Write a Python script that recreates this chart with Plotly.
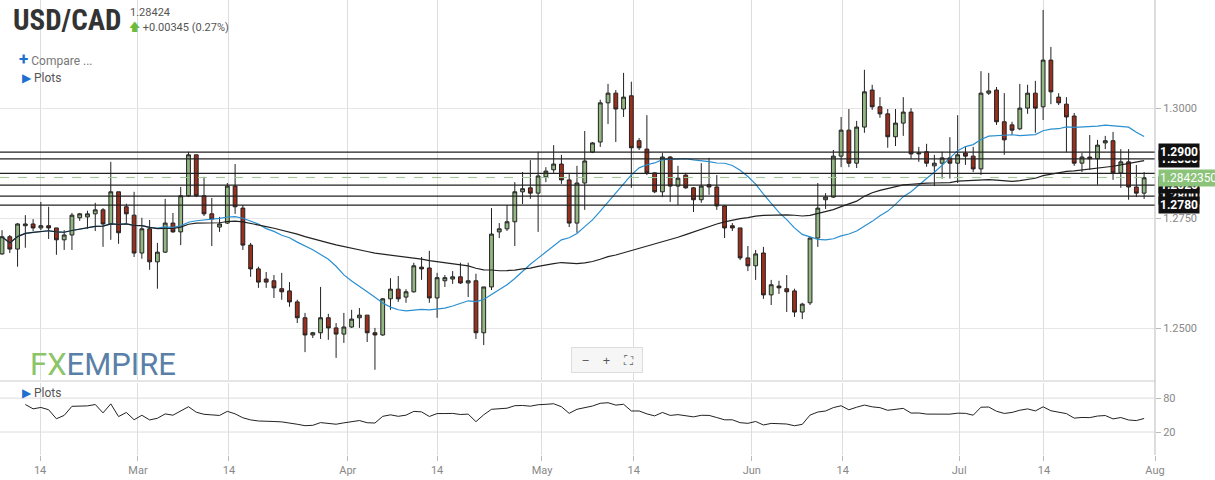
import plotly.graph_objects as go
import pandas as pd
import numpy as np

opens = [1.2669,1.2708,1.2680,1.2733,1.2737,1.2728,1.2733,1.2728,1.2701,1.2712,1.2751,1.2753,1.2760,1.2769,1.2737,1.2810,1.2776,1.2757,1.2671,1.2726,
1.2651,1.2673,1.2739,1.2719,1.2801,1.2894,1.2801,1.2760,1.2730,1.2739,1.2823,1.2773,1.2689,1.2635,1.2612,1.2608,1.2590,1.2585,1.2560,1.2524,
1.2485,1.2490,1.2524,1.2501,1.2487,1.2503,1.2524,1.2530,1.2490,1.2485,1.2567,1.2589,1.2571,1.2583,1.2639,1.2637,1.2569,1.2608,1.2612,1.2617,
1.2603,1.2608,1.2490,1.2594,1.2719,1.2726,1.2742,1.2810,1.2819,1.2807,1.2844,1.2860,1.2873,1.2837,1.2739,1.2830,1.2900,1.2923,1.3012,1.3034,
1.2998,1.3028,1.2926,1.2907,1.2853,1.2810,1.2889,1.2823,1.2848,1.2819,1.2792,1.2826,1.2821,1.2778,1.2733,1.2728,1.2660,1.2642,1.2671,1.2576,
1.2596,1.2590,1.2585,1.2537,1.2558,1.2705,1.2792,1.2798,1.2891,1.2950,1.2875,1.2957,1.3041,1.3003,1.2987,1.2935,1.2966,1.2991,1.2896,1.2901,
1.2869,1.2875,1.2887,1.2875,1.2898,1.2891,1.2862,1.3034,1.3041,1.2969,1.2962,1.2953,1.3000,1.3034,1.3003,1.3109,1.3025,1.3009,1.2982,1.2875,
1.2889,1.2885,1.2921,1.2926,1.2853,1.2878,1.2821,1.2807]
highs = [1.2723,1.2712,1.2739,1.2757,1.2748,1.2787,1.2776,1.2728,1.2723,1.2762,1.2762,1.2767,1.2785,1.2773,1.2878,1.2810,1.2783,1.2810,1.2751,1.2746,
1.2694,1.2794,1.2762,1.2821,1.2901,1.2894,1.2844,1.2796,1.2753,1.2830,1.2873,1.2780,1.2694,1.2640,1.2628,1.2621,1.2626,1.2605,1.2565,1.2535,
1.2492,1.2594,1.2533,1.2512,1.2535,1.2542,1.2546,1.2530,1.2501,1.2569,1.2614,1.2619,1.2589,1.2649,1.2662,1.2676,1.2626,1.2621,1.2630,1.2649,
1.2649,1.2624,1.2594,1.2773,1.2739,1.2780,1.2832,1.2855,1.2882,1.2901,1.2866,1.2916,1.2894,1.2853,1.2869,1.2948,1.2923,1.3019,1.3055,1.3041,
1.3080,1.3060,1.2932,1.2984,1.2853,1.2898,1.2891,1.2869,1.2853,1.2821,1.2875,1.2887,1.2848,1.2780,1.2739,1.2728,1.2687,1.2678,1.2685,1.2610,
1.2608,1.2621,1.2590,1.2558,1.2708,1.2830,1.2807,1.2905,1.2980,1.2998,1.2971,1.3087,1.3053,1.3025,1.2998,1.2998,1.3025,1.3000,1.2912,1.2919,
1.2894,1.2901,1.2934,1.2984,1.2912,1.2912,1.3084,1.3080,1.3048,1.3034,1.2969,1.3055,1.3053,1.3062,1.3223,1.3139,1.3034,1.3025,1.2989,1.2898,
1.2939,1.2928,1.2937,1.2946,1.2907,1.2907,1.2871,1.2855]
lows = [1.2667,1.2671,1.2640,1.2683,1.2721,1.2723,1.2703,1.2667,1.2678,1.2678,1.2744,1.2726,1.2721,1.2685,1.2701,1.2692,1.2737,1.2662,1.2658,1.2633,
1.2590,1.2671,1.2717,1.2689,1.2798,1.2798,1.2755,1.2687,1.2719,1.2737,1.2760,1.2678,1.2617,1.2592,1.2592,1.2569,1.2565,1.2549,1.2512,1.2446,
1.2478,1.2476,1.2474,1.2433,1.2467,1.2501,1.2501,1.2469,1.2406,1.2483,1.2542,1.2560,1.2558,1.2581,1.2610,1.2558,1.2524,1.2594,1.2601,1.2601,
1.2571,1.2476,1.2462,1.2587,1.2705,1.2721,1.2687,1.2782,1.2794,1.2719,1.2832,1.2853,1.2828,1.2730,1.2717,1.2769,1.2898,1.2912,1.2964,1.2923,
1.2980,1.2819,1.2905,1.2848,1.2807,1.2798,1.2787,1.2780,1.2817,1.2764,1.2785,1.2803,1.2769,1.2705,1.2721,1.2655,1.2630,1.2610,1.2567,1.2553,
1.2578,1.2537,1.2526,1.2521,1.2553,1.2685,1.2771,1.2796,1.2866,1.2866,1.2864,1.2944,1.2996,1.2978,1.2910,1.2914,1.2937,1.2885,1.2878,1.2867,
1.2823,1.2840,1.2840,1.2830,1.2871,1.2855,1.2848,1.3030,1.2962,1.2894,1.2939,1.2950,1.2987,1.2944,1.2973,1.3009,1.3007,1.2900,1.2869,1.2855,
1.2860,1.2826,1.2907,1.2837,1.2819,1.2792,1.2798,1.2794]
closes = [1.2708,1.2680,1.2737,1.2737,1.2728,1.2733,1.2728,1.2701,1.2712,1.2757,1.2760,1.2760,1.2769,1.2737,1.2810,1.2717,1.2760,1.2671,1.2726,1.2651,
1.2673,1.2739,1.2719,1.2801,1.2894,1.2801,1.2760,1.2748,1.2737,1.2823,1.2776,1.2689,1.2635,1.2605,1.2605,1.2592,1.2583,1.2560,1.2524,1.2485,
1.2490,1.2524,1.2501,1.2487,1.2503,1.2521,1.2530,1.2490,1.2485,1.2567,1.2589,1.2567,1.2583,1.2642,1.2635,1.2569,1.2615,1.2615,1.2617,1.2603,
1.2608,1.2490,1.2594,1.2714,1.2726,1.2742,1.2810,1.2817,1.2807,1.2846,1.2857,1.2873,1.2837,1.2739,1.2830,1.2880,1.2921,1.3012,1.3034,1.2998,
1.3025,1.2910,1.2910,1.2853,1.2810,1.2889,1.2823,1.2841,1.2819,1.2792,1.2823,1.2821,1.2778,1.2728,1.2728,1.2660,1.2642,1.2669,1.2576,1.2599,
1.2592,1.2583,1.2537,1.2555,1.2705,1.2773,1.2798,1.2891,1.2950,1.2875,1.2957,1.3037,1.3003,1.2987,1.2935,1.2966,1.2991,1.2896,1.2898,1.2875,
1.2875,1.2887,1.2875,1.2894,1.2891,1.2862,1.3034,1.3039,1.2969,1.2928,1.2950,1.3000,1.3034,1.3000,1.3109,1.3037,1.3012,1.2980,1.2875,1.2889,
1.2885,1.2916,1.2926,1.2853,1.2878,1.2821,1.2807,1.2842]

tick_pos = [4.9, 17.5, 29.2, 44.5, 56.0, 69.5, 81.3, 96.5, 108.2, 123.2, 134.1, 148.4]
tick_text = ["14", "Mar", "14", "Apr", "14", "May", "14", "Jun", "14", "Jul", "14", "Aug"]
# drawn in this order so the later labels sit on top, as in the reference
levels = [1.2885, 1.2800, 1.2825, 1.2900, 1.2852, 1.2780]
level_labels = ["1.2880", "1.2800", "1.2825", "1.2900", "", "1.2780"]
last_price = 1.284235

n = len(closes)
x = list(range(n))
c = pd.Series(closes)
ma20 = c.rolling(20, min_periods=1).mean()
ma50 = c.rolling(50, min_periods=1).mean()
d = c.diff()
up = d.clip(lower=0).ewm(alpha=1/14, min_periods=1).mean()
dn = (-d.clip(upper=0)).ewm(alpha=1/14, min_periods=1).mean()
rsi = 100 - 100 / (1 + up / dn.replace(0, np.nan))
rsi.iloc[:3] = np.nan

fig = go.Figure()
fig.add_trace(go.Candlestick(x=x, open=opens, high=highs, low=lows, close=closes,
    increasing=dict(fillcolor="#93b783", line=dict(color="#222", width=1)),
    decreasing=dict(fillcolor="#9b2f1d", line=dict(color="#222", width=1)),
    whiskerwidth=0, showlegend=False, xaxis="x", yaxis="y"))
fig.add_trace(go.Scatter(x=x, y=ma20, mode="lines", line=dict(color="#2a8fd0", width=1.2), showlegend=False))
fig.add_trace(go.Scatter(x=x, y=ma50, mode="lines", line=dict(color="#222", width=1.2), showlegend=False))
fig.add_trace(go.Scatter(x=x, y=rsi, mode="lines", line=dict(color="#222", width=1), showlegend=False, xaxis="x2", yaxis="y2"))

shapes = []
for lv in levels:
    shapes.append(dict(type="line", xref="paper", x0=0, x1=1, yref="y", y0=lv, y1=lv, line=dict(color="#222", width=1.2)))
shapes.append(dict(type="line", xref="paper", x0=0, x1=1, yref="y", y0=last_price, y1=last_price, line=dict(color="#9cc98e", width=1, dash="dash")))
for yv in [80, 20]:
    shapes.append(dict(type="line", xref="paper", x0=0, x1=1, yref="y2", y0=yv, y1=yv, line=dict(color="#ddd", width=1)))
shapes.append(dict(type="line", xref="paper", x0=0, x1=1, yref="paper", y0=0.1626, y1=0.1626, line=dict(color="#ccc", width=1)))
shapes.append(dict(type="line", xref="paper", x0=1, x1=1, yref="paper", y0=0, y1=1, line=dict(color="#bbb", width=1)))

ann = []
for lv, lab in zip(levels, level_labels):
    if lab:
        ann.append(dict(x=1.003, xref="paper", y=lv, yref="y", text="<b>" + lab + "</b>", showarrow=False, xanchor="left",
                        bgcolor="#111", font=dict(color="white", size=12, family="Roboto"), borderpad=1))
    if lv == 1.2852:
        ann.append(dict(x=1.003, xref="paper", y=last_price, yref="y", text="1.2842350", showarrow=False, xanchor="left",
                        bgcolor="#8cc37a", font=dict(color="white", size=12, family="Roboto"), borderpad=1))

def note(px, py, text, **kw):
    return dict(x=px/1155, y=1-py/455, xref="paper", yref="paper", text=text, showarrow=False,
                xanchor=kw.pop("xanchor", "left"), yanchor="middle", **kw)

ann += [
    note(11, 20, "<b>USD/CAD</b>", font=dict(size=29, color="#333", family="Roboto Condensed, Roboto")),
    note(128, 12, "1.28424", font=dict(size=11, color="#555", family="Roboto")),
    note(127, 27, "<span style='color:#6dbb3c'>🡅</span> +0.00345 (0.27%)", font=dict(size=11, color="#555", family="Roboto")),
    note(17, 59, "<span style='color:#1e6fd0;font-size:17px'><b>+</b></span> Compare ...", font=dict(size=12, color="#777", family="Roboto")),
    note(20, 78, "<span style='color:#1e6fd0'>▶</span> Plots", font=dict(size=12, color="#555", family="Roboto")),
    note(20, 393, "<span style='color:#1e6fd0'>▶</span> Plots", font=dict(size=12, color="#555", family="Roboto")),
    note(28, 364, "<span style='color:#8cc46a'>FX</span><span style='color:#5a7fa8'>EMPIRE</span>", font=dict(size=31, family="Roboto")),
    note(607, 360, "  −    +    ⛶  ", xanchor="center", font=dict(size=13, color="#555"),
         bgcolor="#f6f6f6", bordercolor="#ddd", borderwidth=1, borderpad=3),
]

fig.update_layout(
    width=1215, height=480, margin=dict(l=0, r=60, t=0, b=25),
    paper_bgcolor="white", plot_bgcolor="white",
    xaxis=dict(domain=[0, 1], range=[-0.26, 148.4], rangeslider=dict(visible=False), showticklabels=False,
               tickvals=tick_pos, showgrid=True, gridcolor="#ddd", zeroline=False, anchor="y"),
    yaxis=dict(domain=[0.165, 1], range=[1.23829, 1.32455], side="right", tickvals=[1.25, 1.275, 1.3],
               ticktext=["1.2500", "1.2750", "1.3000"], showgrid=True, gridcolor="#e6e6e6", zeroline=False,
               ticks="outside", ticklen=5, tickcolor="#bbb", tickfont=dict(size=11, color="#888", family="Roboto")),
    xaxis2=dict(domain=[0, 1], range=[-0.26, 148.4], tickvals=tick_pos, ticktext=tick_text,
                showgrid=True, gridcolor="#ddd", zeroline=False, anchor="y2", ticks="outside", ticklen=5, tickcolor="#bbb",
                tickfont=dict(size=11, color="#888", family="Roboto")),
    yaxis2=dict(domain=[0, 0.158], range=[-20.6, 106.5], side="right", tickvals=[20, 80], showgrid=False, zeroline=False,
                ticks="outside", ticklen=5, tickcolor="#bbb", tickfont=dict(size=11, color="#888", family="Roboto")),
    shapes=shapes, annotations=ann,
)
fig.write_html("out.html", config={"displayModeBar": False})
with open("out.html", encoding="utf-8") as fh:
    html = fh.read()
html = html.replace("<body>", "<body style=\"margin:0;overflow:hidden\">", 1)
with open("out.html", "w", encoding="utf-8") as fh:
    fh.write(html)
